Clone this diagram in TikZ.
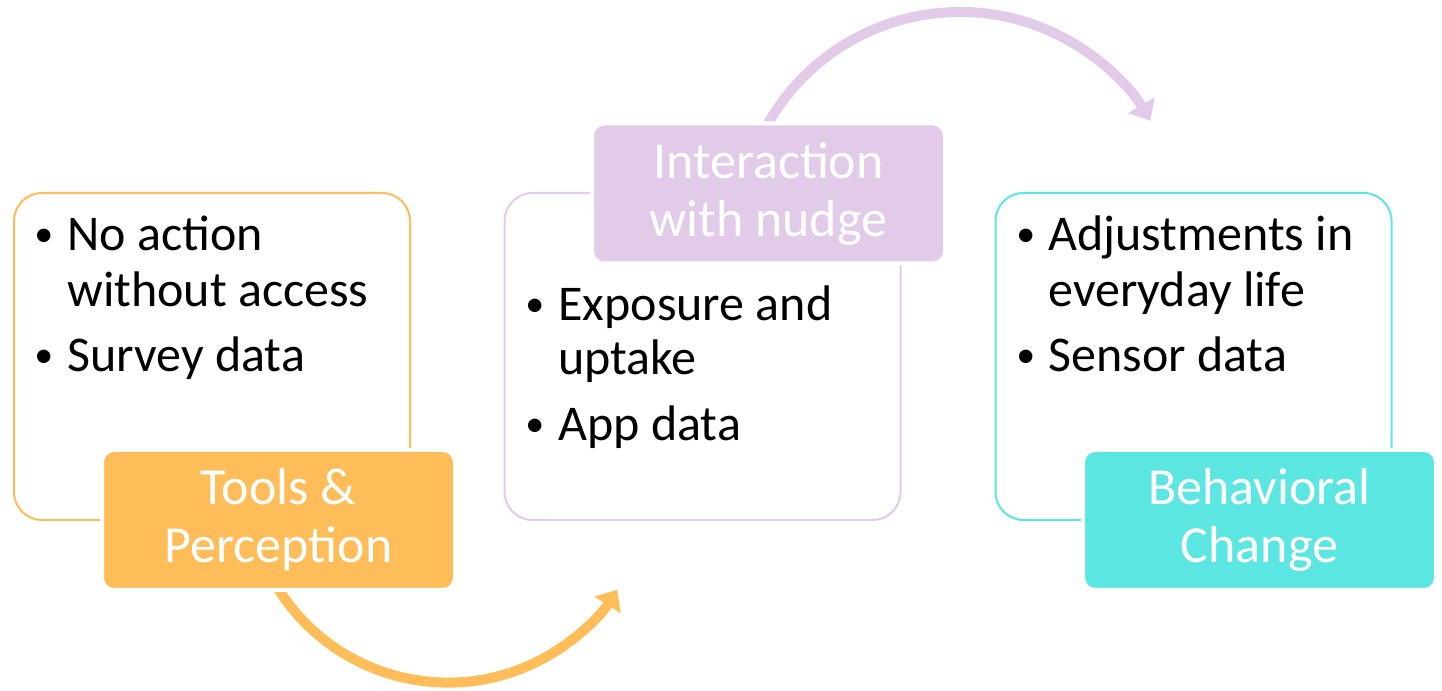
\documentclass[tikz,border=0pt]{standalone}
\usepackage{fontspec}
\setmainfont{Carlito}
\usetikzlibrary{arrows.meta}
\definecolor{corange}{HTML}{FFBD59}
\definecolor{cpurple}{HTML}{E1CBE8}
\definecolor{ccyan}{HTML}{5CE6E1}
\tikzset{
  outerbox/.style={draw=#1, line width=1pt, rounded corners=14pt, minimum width=198pt, minimum height=163.5pt, fill=white},
  labelbox/.style={fill=#1, draw=white, line width=2pt, rounded corners=6pt, minimum width=176.5pt, minimum height=70pt, text=white, align=center, font=\fontsize{26pt}{29pt}\selectfont, inner sep=0pt},
  bodytext/.style={anchor=base west, inner sep=0pt, font=\fontsize{25pt}{28pt}\selectfont},
  bullet/.style={anchor=base west, inner sep=0pt, font=\fontsize{19pt}{20pt}\selectfont},
  flow/.style={line width=5pt, draw=#1, -{Triangle[length=9pt,width=15pt]}},
}
\begin{document}
\begin{tikzpicture}[x=0.5pt,y=0.5pt]
\useasboundingbox (0,0) rectangle (1442,691);
% arrows (drawn first, labels cover their starts)
\draw[flow=corange] (448,209) ++(210:200.6) arc[start angle=210, end angle=327.5, radius=200.6];
\draw[flow=cpurple] (960,458) ++(152:221) arc[start angle=152, end angle=30.5, radius=221];
% outer boxes
\node[outerbox=corange] (boxA) at (212,334.5) {};
\node[outerbox=cpurple] (boxB) at (702.5,334.5) {};
\node[outerbox=ccyan] (boxC) at (1193.5,334.5) {};
% labels
\node[labelbox=corange] (labA) at (278.5,171) {Tools \&\\Perception};
\node[labelbox=cpurple] (labB) at (768.5,497.5) {Interaction\\with nudge};
\node[labelbox=ccyan] (labC) at (1259.5,171) {Behavioral\\Change};
% left text
\node[bullet] (a1b) at (34,444) {•};
\node[bodytext] (a1) at (67,440) {No action};
\node[bodytext] (a1c) at (67,384) {without access};
\node[bullet] (a2b) at (34,323) {•};
\node[bodytext] (a2) at (67,319) {Survey data};
% middle text
\node[bullet] (b1b) at (525,374) {•};
\node[bodytext] (b1) at (558,370) {Exposure and};
\node[bodytext] (b1c) at (558,316) {uptake};
\node[bullet] (b2b) at (525,254) {•};
\node[bodytext] (b2) at (558,250) {App data};
% right text
\node[bullet] (c1b) at (1016,444) {•};
\node[bodytext] (c1) at (1048,440) {Adjustments in};
\node[bodytext] (c1c) at (1048,384) {everyday life};
\node[bullet] (c2b) at (1016,323) {•};
\node[bodytext] (c2) at (1048,319) {Sensor data};
\end{tikzpicture}
\end{document}
